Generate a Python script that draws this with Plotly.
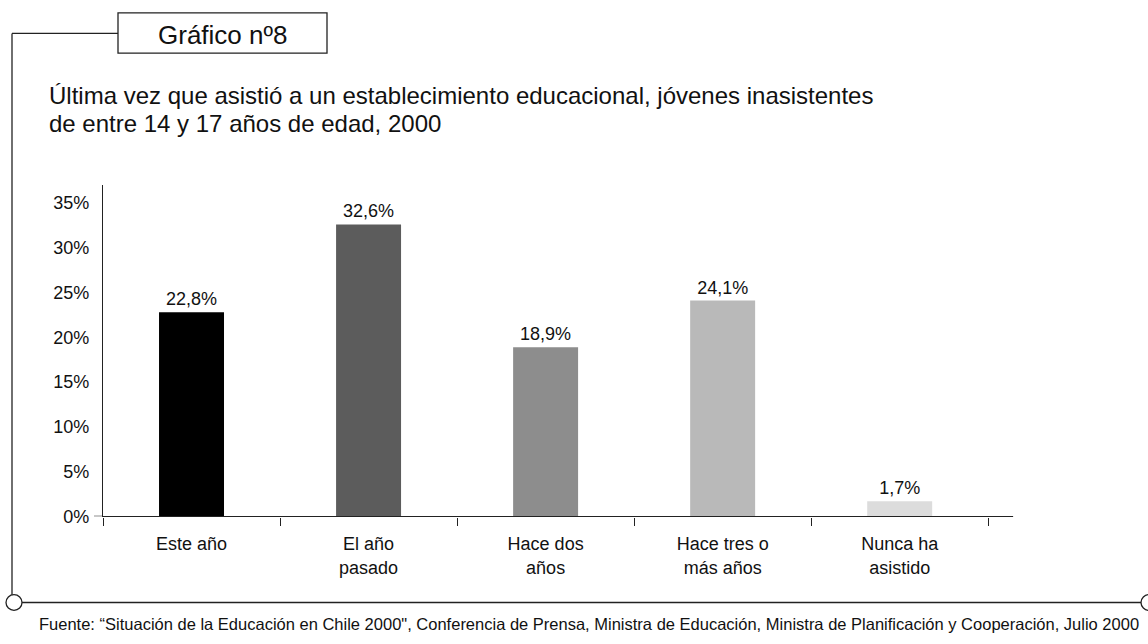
import plotly.graph_objects as go

categories = ["Este año", "El año<br>pasado", "Hace dos<br>años", "Hace tres o<br>más años", "Nunca ha<br>asistido"]
values = [22.8, 32.6, 18.9, 24.1, 1.7]
value_labels = ["22,8%", "32,6%", "18,9%", "24,1%", "1,7%"]
bar_colors = ["#000000", "#5c5c5c", "#8d8d8d", "#b9b9b9", "#dcdcdc"]
y_ticks = [0, 5, 10, 15, 20, 25, 30, 35]
y_tick_labels = ["0%", "5%", "10%", "15%", "20%", "25%", "30%", "35%"]

W, H = 1148, 644
FONT = "Liberation Sans, Arial, Helvetica, sans-serif"


def px(x):
    return x / W


def py(y):
    return 1 - y / H


fig = go.Figure()
fig.add_trace(go.Bar(
    x=categories,
    y=values,
    marker=dict(color=bar_colors, line=dict(width=0)),
    width=0.367,
    text=value_labels,
    textposition="outside",
    textfont=dict(family=FONT, size=18, color="#111111"),
    constraintext="none",
    cliponaxis=False,
    hoverinfo="skip",
))

fig.update_layout(
    width=W, height=H,
    margin=dict(l=0, r=0, t=0, b=0),
    paper_bgcolor="white",
    plot_bgcolor="white",
    showlegend=False,
    font=dict(family=FONT, color="#111111"),
    xaxis=dict(
        domain=[px(103), px(1013)],
        range=[-0.5, 4.64],
        type="category",
        showline=True, linecolor="#222222", linewidth=1.3,
        ticks="outside", ticklen=8, tickcolor="#222222", tickwidth=1.3,
        tickson="boundaries",
        showgrid=False, zeroline=False,
        tickfont=dict(family=FONT, size=18, color="#111111"),
        ticklabelstandoff=11,
    ),
    yaxis=dict(
        domain=[py(524.5), py(188)],
        range=[0, 37],
        tickvals=y_ticks, ticktext=y_tick_labels,
        showline=True, linecolor="#222222", linewidth=1.3,
        ticks="", showgrid=False, zeroline=False,
        tickfont=dict(family=FONT, size=18, color="#111111"),
        ticklabelstandoff=9,
    ),
)

LC = "#222222"
shapes = [
    # x-axis extension to the left of the y-axis
    dict(type="line", xref="paper", yref="y", x0=px(94), x1=px(103), y0=0, y1=0,
         line=dict(color=LC, width=1.3)),
    # closing tick at the axis end
    dict(type="line", xref="x domain", yref="y", x0=1, x1=1, y0=0, y1=-8,
         ysizemode="pixel", yanchor=0, line=dict(color=LC, width=1.3)),
    # frame
    dict(type="rect", xref="paper", yref="paper", x0=px(118), x1=px(327), y0=py(54), y1=py(13),
         line=dict(color=LC, width=1.3), fillcolor="white"),
    dict(type="line", xref="paper", yref="paper", x0=px(12), x1=px(118), y0=py(34), y1=py(34),
         line=dict(color=LC, width=1.3)),
    dict(type="line", xref="paper", yref="paper", x0=px(12), x1=px(12), y0=py(34), y1=py(605),
         line=dict(color=LC, width=1.3)),
    dict(type="line", xref="paper", yref="paper", x0=px(22), x1=px(1141), y0=py(612), y1=py(612),
         line=dict(color=LC, width=1.3)),
    dict(type="circle", xref="paper", yref="paper", x0=px(6), x1=px(22), y0=py(620), y1=py(604),
         line=dict(color=LC, width=1.3), fillcolor="white"),
    dict(type="circle", xref="paper", yref="paper", x0=px(1141), x1=px(1157), y0=py(620), y1=py(604),
         line=dict(color=LC, width=1.3), fillcolor="white"),
]
fig.update_layout(shapes=shapes)

annotations = [
    dict(text="Gráfico nº8", x=px(222.5), y=py(36), xref="paper", yref="paper",
         xanchor="center", yanchor="middle", showarrow=False,
         font=dict(family=FONT, size=26, color="#111111")),
    dict(text="Última vez que asistió a un establecimiento educacional, jóvenes inasistentes",
         x=px(47), y=py(97), xref="paper", yref="paper",
         xanchor="left", yanchor="middle", showarrow=False,
         font=dict(family=FONT, size=24, color="#111111")),
    dict(text="de entre 14 y 17 años de edad, 2000",
         x=px(47), y=py(125.5), xref="paper", yref="paper",
         xanchor="left", yanchor="middle", showarrow=False,
         font=dict(family=FONT, size=24, color="#111111")),
    dict(text="Fuente: “Situación de la Educación en Chile 2000\", Conferencia de Prensa, Ministra de Educación, Ministra de Planificación y Cooperación, Julio 2000",
         x=px(589), y=py(634), xref="paper", yref="paper",
         xanchor="center", yanchor="middle", showarrow=False,
         font=dict(family=FONT, size=16.5, color="#111111")),
]
fig.update_layout(annotations=annotations)

fig.write_html(
    "out.html",
    config={"displayModeBar": False},
    post_script="document.body.style.margin='0';",
)
